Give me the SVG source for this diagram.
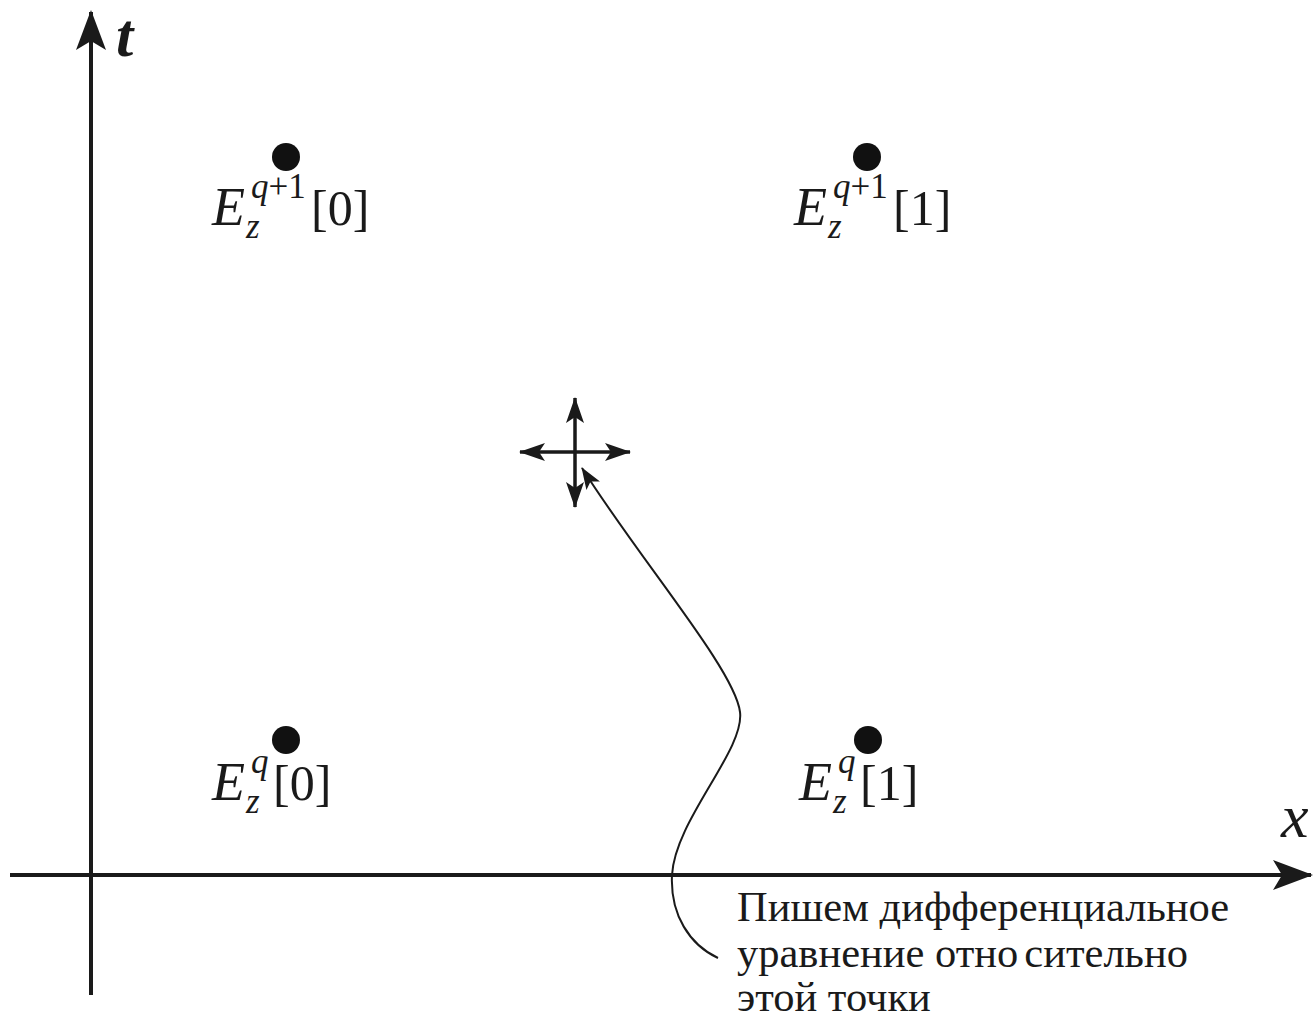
<svg xmlns="http://www.w3.org/2000/svg" width="1314" height="1021" viewBox="0 0 1314 1021">
<style>
.ax{stroke:#1a1a1a;stroke-width:4;fill:none}
.cr{stroke:#1a1a1a;stroke-width:3.5;fill:none}
.dot{fill:#111}
.lbl{font-family:"Liberation Serif",serif;fill:#1a1a1a}
.it{font-style:italic}
.big{font-size:50px}
.e{font-size:54px}
.sup{font-size:35px}
.cap{font-family:"Liberation Serif",serif;font-size:42.5px;fill:#1a1a1a}
</style>
<defs>
<marker id="big" viewBox="0 0 40 30" refX="38" refY="15" markerWidth="40" markerHeight="30" markerUnits="userSpaceOnUse" orient="auto">
<path d="M0,0 L40,15 L0,30 L9,15 Z" fill="#1a1a1a"/>
</marker>
<marker id="sm" viewBox="0 0 26 18" refX="25" refY="9" markerWidth="26" markerHeight="18" markerUnits="userSpaceOnUse" orient="auto">
<path d="M0,0 L26,9 L0,18 L6,9 Z" fill="#1a1a1a"/>
</marker>
<marker id="thin" viewBox="0 0 22 16" refX="21" refY="8" markerWidth="22" markerHeight="16" markerUnits="userSpaceOnUse" orient="auto">
<path d="M0,0 L22,8 L0,16 L5,8 Z" fill="#1a1a1a"/>
</marker>
</defs>
<rect width="1314" height="1021" fill="#fff"/>
<g id="axes">
<line class="ax" x1="91" y1="995" x2="91" y2="12" marker-end="url(#big)"/>
<line class="ax" x1="10" y1="875" x2="1311" y2="875" marker-end="url(#big)"/>
<text class="lbl it" x="116" y="56" font-size="62" font-weight="bold">t</text>
<text class="lbl it" x="1281" y="837" font-size="62">x</text>
</g>
<g id="node-top0">
<circle class="dot" cx="286" cy="157" r="14"/>
<text class="lbl it e" x="212" y="225">E</text>
<text class="lbl sup" x="251" y="198"><tspan class="it">q</tspan>+1</text>
<text class="lbl big" x="311" y="225">[0]</text>
<text class="lbl it sup" x="246" y="238">z</text>
</g>
<g id="node-top1">
<circle class="dot" cx="867" cy="157" r="14"/>
<text class="lbl it e" x="794" y="225">E</text>
<text class="lbl sup" x="833" y="198"><tspan class="it">q</tspan>+1</text>
<text class="lbl big" x="893" y="225">[1]</text>
<text class="lbl it sup" x="828" y="238">z</text>
</g>
<g id="node-bot0">
<circle class="dot" cx="286" cy="740" r="14"/>
<text class="lbl it e" x="212" y="800">E</text>
<text class="lbl it sup" x="251" y="773">q</text>
<text class="lbl big" x="273" y="800">[0]</text>
<text class="lbl it sup" x="246" y="813">z</text>
</g>
<g id="node-bot1">
<circle class="dot" cx="868" cy="740" r="14"/>
<text class="lbl it e" x="799" y="800">E</text>
<text class="lbl it sup" x="838" y="773">q</text>
<text class="lbl big" x="860" y="800">[1]</text>
<text class="lbl it sup" x="833" y="813">z</text>
</g>
<g id="node-point">
<line class="cr" x1="575" y1="452" x2="575" y2="398" marker-end="url(#sm)"/>
<line class="cr" x1="575" y1="452" x2="575" y2="507" marker-end="url(#sm)"/>
<line class="cr" x1="575" y1="452" x2="520" y2="452" marker-end="url(#sm)"/>
<line class="cr" x1="575" y1="452" x2="630" y2="452" marker-end="url(#sm)"/>
</g>
<g id="connectors">
<path d="M718,958 C690,945 670,915 672,875 C675,820 745,750 740,712 C735,670 640,560 582,468" stroke="#1a1a1a" stroke-width="2" fill="none" marker-end="url(#thin)"/>
</g>
<g id="caption">
<text class="cap" x="737" y="921">Пишем дифференциальное</text>
<text class="cap" x="737" y="967">уравнение отно<tspan dx="5">сительно</tspan></text>
<text class="cap" x="737" y="1011">этой точки</text>
</g>
</svg>
